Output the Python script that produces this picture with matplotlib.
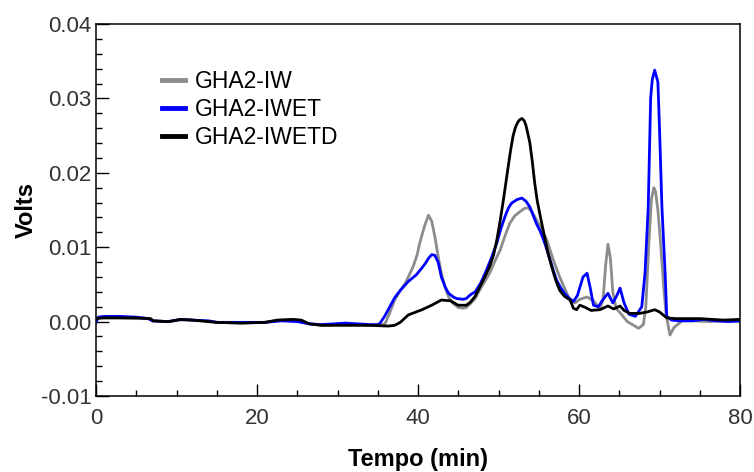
import matplotlib
matplotlib.use("Agg")
import matplotlib.pyplot as plt
from matplotlib.ticker import MultipleLocator, FuncFormatter

plt.rcParams['font.family'] = ['Liberation Sans', 'DejaVu Sans']

# ---- data ----
t_iw = [0, 0.3, 1, 3, 5, 6.5, 7, 9, 10.5, 12, 14, 15, 18, 21, 23, 25, 26.5, 28, 31, 34,
        35.3, 35.9, 36.5, 37.1, 37.8, 38.4, 39.4, 39.9, 40.2, 40.8, 41.3, 41.7, 42.1, 42.5,
        42.9, 43.4, 43.8, 44.4, 45.0, 45.6, 46.0, 46.5, 47.1, 47.8, 48.9, 49.5, 50.2, 50.8,
        51.4, 52.0, 52.7, 53.2, 53.7, 54.2, 54.7, 55.3, 56.0, 56.8, 57.6, 58.2, 58.7, 59.1,
        59.5, 60.1, 61.0, 61.8, 62.6, 63.0, 63.3, 63.6, 63.9, 64.2, 64.6, 65.1, 66.0, 67.4,
        68.0, 68.3, 68.7, 69.0, 69.3, 69.5, 69.8, 70.1, 70.5, 70.8, 71.3, 71.8, 72.9, 74,
        76, 78, 80]
v_iw = [0.0002, 0.0006, 0.0005, 0.0005, 0.0004, 0.0004, 0.0001, 0.0, 0.0002, 0.0002, 0.0,
        -0.0001, -0.0002, -0.0001, 0.0002, 0.0001, -0.0003, -0.0005, -0.0004, -0.0005,
        -0.0005, -0.0003, 0.0012, 0.0029, 0.0042, 0.0051, 0.0074, 0.0090, 0.0105, 0.0128,
        0.0143, 0.0135, 0.0114, 0.0088, 0.0065, 0.0045, 0.0033, 0.0024, 0.0019, 0.0018,
        0.0019, 0.0024, 0.0031, 0.0045, 0.0065, 0.0080, 0.0096, 0.0115, 0.0132, 0.0142,
        0.0148, 0.0152, 0.0153, 0.0147, 0.0137, 0.0125, 0.0110, 0.0083, 0.0060, 0.0045,
        0.0033, 0.0028, 0.0025, 0.0030, 0.0033, 0.0028, 0.0017, 0.0030, 0.0075, 0.0104,
        0.0085, 0.0040, 0.0018, 0.0012, 0.0000, -0.0009, -0.0004, 0.0020, 0.0110, 0.0165,
        0.0180, 0.0175, 0.0150, 0.0110, 0.0050, 0.0011, -0.0018, -0.0008, 0.0002, 0.0001,
        0.0, 0.0001, 0.0]

t_iwet = [0, 0.3, 1, 3, 5, 6.5, 7, 9, 10.5, 12, 14, 15, 18, 21, 23, 25, 26.5, 28, 31, 34,
          35.0, 35.3, 35.9, 36.5, 37.1, 37.8, 38.8, 39.8, 40.4, 40.9, 41.3, 41.7, 42.1, 42.5,
          42.9, 43.4, 43.8, 44.4, 44.8, 45.6, 46.0, 46.5, 47.1, 47.8, 48.5, 49.2, 49.8, 50.3,
          50.8, 51.2, 51.6, 52.3, 52.9, 53.4, 53.9, 54.3, 54.7, 55.2, 55.6, 56.0, 56.4, 56.8,
          57.2, 57.7, 58.2, 58.8, 59.3, 59.8, 60.5, 61.0, 61.4, 61.8, 62.4, 63.0, 63.6, 64.2,
          64.7, 65.1, 65.6, 66.2, 67.0, 67.8, 68.2, 68.6, 68.9, 69.1, 69.4, 69.8, 70.0, 70.3,
          70.7, 70.9, 71.5, 72.5, 74, 75.5, 77, 78.5, 80]
v_iwet = [-0.0001, 0.0006, 0.0007, 0.0007, 0.0006, 0.0004, 0.0001, 0.0, 0.0003, 0.0002,
          0.0001, -0.0001, -0.0001, -0.0001, 0.0001, 0.0, -0.0003, -0.0004, -0.0002, -0.0004,
          -0.0004, -0.0002, 0.0008, 0.0020, 0.0032, 0.0042, 0.0054, 0.0063, 0.0071, 0.0078,
          0.0085, 0.0090, 0.0089, 0.0080, 0.0060, 0.0046, 0.0038, 0.0033, 0.0031, 0.0030,
          0.0031, 0.0036, 0.0040, 0.0052, 0.0069, 0.0088, 0.0106, 0.0125, 0.0141, 0.0152,
          0.0159, 0.0164, 0.0166, 0.0162, 0.0154, 0.0143, 0.0132, 0.0121, 0.0110, 0.0097,
          0.0083, 0.0069, 0.0056, 0.0046, 0.0038, 0.0031, 0.0027, 0.0035, 0.0060, 0.0065,
          0.0045, 0.0022, 0.0020, 0.0030, 0.0038, 0.0025, 0.0035, 0.0045, 0.0025, 0.0010,
          0.0007, 0.0020, 0.0065, 0.0154, 0.0300, 0.0325, 0.0338, 0.0322, 0.0260, 0.0154,
          0.0065, 0.0007, 0.0002, 0.0001, 0.0001, 0.0003, 0.0001, 0.0, 0.0001]

t_iwetd = [0, 1, 3, 5, 6.8, 7.1, 9, 10.5, 12, 14, 15, 18, 21, 22.5, 24.5, 25.5, 26.5, 28, 31,
           34, 36.3, 37.1, 37.8, 38.8, 40.5, 41.7, 42.9, 44.0, 45.0, 46.0, 46.5, 47.1, 47.7,
           48.3, 48.9, 49.4, 49.8, 50.2, 50.6, 51.2, 51.5, 51.8, 52.1, 52.4, 52.6, 52.9, 53.2,
           53.4, 53.6, 53.9, 54.2, 54.5, 54.8, 55.2, 55.8, 56.2, 56.6, 57.1, 57.6, 58.2, 58.9,
           59.3, 59.7, 60.1, 60.6, 61.5, 62.6, 63.6, 64.3, 65.1, 65.6, 66.3, 67.5, 68.5, 69.4,
           70.0, 70.9, 72, 75, 76.5, 78, 80]
v_iwetd = [0.0004, 0.0005, 0.0005, 0.0005, 0.0004, 0.0001, 0.0, 0.0003, 0.0002, 0.0, -0.0001,
           -0.0002, -0.0001, 0.0002, 0.0003, 0.0002, -0.0003, -0.0005, -0.0005, -0.0005,
           -0.0006, -0.0005, -0.0001, 0.0009, 0.0016, 0.0022, 0.0029, 0.0028, 0.0022, 0.0022,
           0.0026, 0.0034, 0.0047, 0.0060, 0.0074, 0.0090, 0.0110, 0.0135, 0.0163, 0.0208,
           0.0230, 0.0249, 0.0261, 0.0268, 0.0271, 0.0273, 0.0270, 0.0264, 0.0255, 0.0240,
           0.0215, 0.0186, 0.0163, 0.0141, 0.0110, 0.0090, 0.0074, 0.0056, 0.0042, 0.0034,
           0.0029, 0.0018, 0.0016, 0.0022, 0.0020, 0.0015, 0.0016, 0.0021, 0.0017, 0.0021,
           0.0015, 0.0011, 0.0011, 0.0013, 0.0016, 0.0013, 0.0005, 0.0004, 0.0004, 0.0003,
           0.0002, 0.0003]

labels = ["GHA2-IW", "GHA2-IWET", "GHA2-IWETD"]
colors = ["#8c8c8c", "#0000ff", "#000000"]
x_ticks = [0, 20, 40, 60, 80]
y_ticks = [-0.01, 0.00, 0.01, 0.02, 0.03, 0.04]

# ---- figure ----
fig = plt.figure(figsize=(7.54, 4.72), dpi=100)
ax = fig.add_axes([96/754, 76/472, 644/754, 372/472])

series = [(t_iw, v_iw), (t_iwet, v_iwet), (t_iwetd, v_iwetd)]
for (t, v), lab, c in zip(series, labels, colors):
    ax.plot(t, v, color=c, lw=2.0, label=lab, solid_joinstyle='round')

ax.set_xlim(0, 80)
ax.set_ylim(-0.01, 0.04)
ax.set_xticks(x_ticks)
ax.set_yticks(y_ticks)
ax.xaxis.set_minor_locator(MultipleLocator(5))
ax.yaxis.set_minor_locator(MultipleLocator(0.002))
ax.yaxis.set_major_formatter(FuncFormatter(lambda v, p: f"{v:.2f}"))
ax.tick_params(which='both', direction='in', width=1.0, labelsize=16, colors='black')
ax.tick_params(which='major', length=9)
ax.tick_params(which='minor', length=4)
ax.tick_params(axis='x', which='major', pad=9)
ax.tick_params(axis='y', which='major', pad=3)
for lbl in ax.get_xticklabels() + ax.get_yticklabels():
    lbl.set_color('#333333')
for s in ax.spines.values():
    s.set_linewidth(1.1)

ax.set_xlabel("Tempo (min)", fontsize=17, fontweight='bold', labelpad=13)
ax.set_ylabel("Volts", fontsize=17, fontweight='bold', labelpad=2)

leg = ax.legend(loc='upper left', bbox_to_anchor=(0.1025, 0.8755), frameon=False,
                fontsize=16.5, handlelength=1.0, handletextpad=0.44, labelspacing=0.22,
                borderpad=0, borderaxespad=0)
for h in leg.get_lines():
    h.set_linewidth(3.5)

fig.savefig("out.png", dpi=100)
